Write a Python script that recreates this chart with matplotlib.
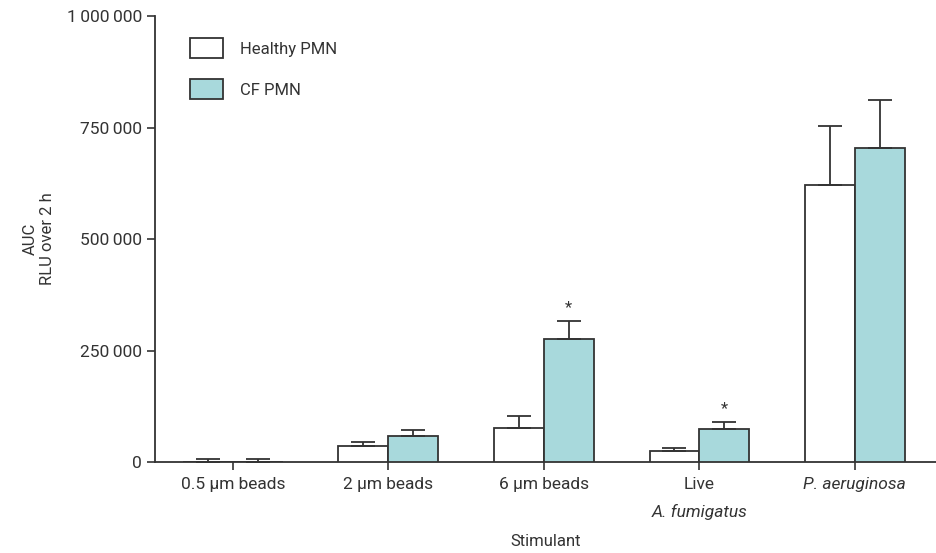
import numpy as np
import matplotlib
matplotlib.use('Agg')
import matplotlib.pyplot as plt
from matplotlib.patches import Patch

plt.rcParams['font.family'] = ['Roboto', 'DejaVu Sans']

categories = ['0.5 µm beads', '2 µm beads', '6 µm beads', 'Live', 'P. aeruginosa']
healthy = [0, 35000, 77000, 24500, 622000]
healthy_err = [7000, 10500, 27000, 7500, 132000]
cf = [0, 58500, 276000, 73500, 705000]
cf_err = [7000, 14000, 41000, 16500, 107000]
signif = [False, False, True, True, False]

ytick_vals = [0, 250000, 500000, 750000, 1000000]

edge = '#333333'
cf_color = '#a8d9dc'
fs = 12.5

fig = plt.figure(figsize=(9.36, 5.53), dpi=100)
ax = fig.add_axes([0.1656, 0.1646, 0.834, 0.806])

x = np.arange(len(categories))
w = 0.32
ax.bar(x - w / 2, healthy, w, color='white', edgecolor=edge, linewidth=1.3,
       yerr=[np.zeros(len(x)), healthy_err], capsize=8.5,
       error_kw=dict(ecolor=edge, elinewidth=1.3, capthick=1.3), zorder=3)
ax.bar(x + w / 2, cf, w, color=cf_color, edgecolor=edge, linewidth=1.3,
       yerr=[np.zeros(len(x)), cf_err], capsize=8.5,
       error_kw=dict(ecolor=edge, elinewidth=1.3, capthick=1.3), zorder=3)

for i, s in enumerate(signif):
    if s:
        ax.annotate('*', (x[i] + w / 2, cf[i] + cf_err[i]), xytext=(0, 4),
                    textcoords='offset points', ha='center', va='bottom',
                    fontsize=12, color=edge)

ax.set_xlim(-0.5, 4.52)
ax.set_ylim(0, 1000000)
ax.set_yticks(ytick_vals)
ax.set_yticklabels([f'{v:,}'.replace(',', '\u2009') for v in ytick_vals])
ax.set_xticks(x)
ax.set_xticklabels(categories)
ax.get_xticklabels()[4].set_style('italic')
ax.annotate('A. fumigatus', (3, 0), xycoords=('data', 'axes fraction'),
            xytext=(0, -36), textcoords='offset points', ha='center', va='center',
            fontsize=fs, style='italic', color=edge)

for sp in ['top', 'right']:
    ax.spines[sp].set_visible(False)
for sp in ['left', 'bottom']:
    ax.spines[sp].set_color(edge)
    ax.spines[sp].set_linewidth(1.3)
ax.tick_params(axis='both', colors=edge, labelcolor=edge, labelsize=fs,
               length=6, width=1.2)
ax.tick_params(axis='x', pad=5)

ax.set_xlabel('Stimulant', fontsize=12, color=edge, labelpad=30)
ax.set_ylabel('AUC\nRLU over 2 h', fontsize=12, color=edge, labelpad=8)

handles = [Patch(facecolor='white', edgecolor=edge, linewidth=1.3),
           Patch(facecolor=cf_color, edgecolor=edge, linewidth=1.3)]
ax.legend(handles, ['Healthy PMN', 'CF PMN'], loc='upper left',
          bbox_to_anchor=(0.025, 0.985), frameon=False, fontsize=12,
          handlelength=2.0, handleheight=1.5, labelspacing=1.25, handletextpad=1.0,
          labelcolor=edge)

fig.savefig('out.png', dpi=100)
